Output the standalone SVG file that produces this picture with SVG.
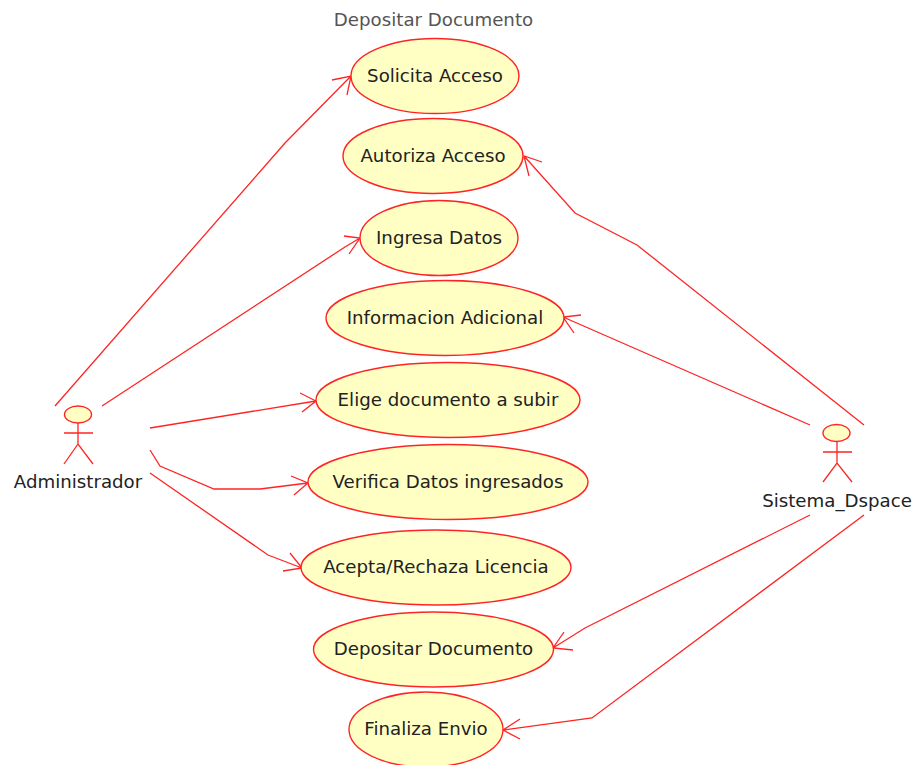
<svg xmlns="http://www.w3.org/2000/svg" width="916" height="765" viewBox="0 0 916 765">
<style>
.uc{fill:#ffffc4;stroke:#ff2424;stroke-width:1.4}
.ln{fill:none;stroke:#ff2424;stroke-width:1.3}
.t{font-family:"DejaVu Sans",sans-serif;font-size:18.2px;fill:#222;text-anchor:middle}
</style>
<rect width="916" height="765" fill="#fff"/>
<text x="433.500" y="25.500" class="t" style="fill:#555">Depositar Documento</text>
<g id="connectors" class="ln">
<path d="M55 406L285 143L351 76M332 80L351 76L347 95"/>
<path d="M102 406L345 247L360 238M344 236L360 238L349 254"/>
<path d="M150 428L316 401M300 393L316 401L302 412"/>
<path d="M150 450L160 466L214 489L260 489L308 483M291 476L308 483L294 495"/>
<path d="M150 473L268 555L302 568M290 553L302 568L283 571"/>
<path d="M864 425L637 245L575 213L524 156M542 162L524 156L529 176"/>
<path d="M810 425L563 317M581 315L563 317L574 333"/>
<path d="M810 515L585 628L553 648M573 650L553 648L564 632"/>
<path d="M864 515L592 718L503 730M520 719L503 730L520 739"/>
</g>
<g id="uc1"><ellipse class="uc" cx="435" cy="76" rx="84" ry="37.500"/><text class="t" x="435" y="81.500">Solicita Acceso</text></g>
<g id="uc2"><ellipse class="uc" cx="433" cy="156" rx="90" ry="37.500"/><text class="t" x="433" y="161.500">Autoriza Acceso</text></g>
<g id="uc3"><ellipse class="uc" cx="439" cy="238" rx="79" ry="37.500"/><text class="t" x="439" y="243.500">Ingresa Datos</text></g>
<g id="uc4"><ellipse class="uc" cx="445" cy="318" rx="119" ry="37.500"/><text class="t" x="445" y="323.500">Informacion Adicional</text></g>
<g id="uc5"><ellipse class="uc" cx="448" cy="400" rx="132" ry="37.500"/><text class="t" x="448" y="405.500">Elige documento a subir</text></g>
<g id="uc6"><ellipse class="uc" cx="448" cy="482" rx="140" ry="37.500"/><text class="t" x="448" y="487.500">Verifica Datos ingresados</text></g>
<g id="uc7"><ellipse class="uc" cx="436" cy="567.500" rx="135" ry="37.500"/><text class="t" x="436" y="573">Acepta/Rechaza Licencia</text></g>
<g id="uc8"><ellipse class="uc" cx="433.500" cy="649.500" rx="120" ry="37.500"/><text class="t" x="433.500" y="654.500">Depositar Documento</text></g>
<g id="uc9"><ellipse class="uc" cx="426" cy="729.500" rx="77" ry="37.500"/><text class="t" x="426" y="735">Finaliza Envio</text></g>
<g id="actor-admin"><ellipse class="uc" cx="78" cy="414.500" rx="13.500" ry="8.500"/><path class="ln" d="M78 423V444M64 433H93M64 464L78 444L93 464"/><text class="t" x="78" y="488">Administrador</text></g>
<g id="actor-sistema"><ellipse class="uc" cx="836.500" cy="433" rx="13.500" ry="8.500"/><path class="ln" d="M837 442V463M823 452H852M823 482L837 463L852 482"/><text class="t" x="837" y="507">Sistema_Dspace</text></g>
</svg>
